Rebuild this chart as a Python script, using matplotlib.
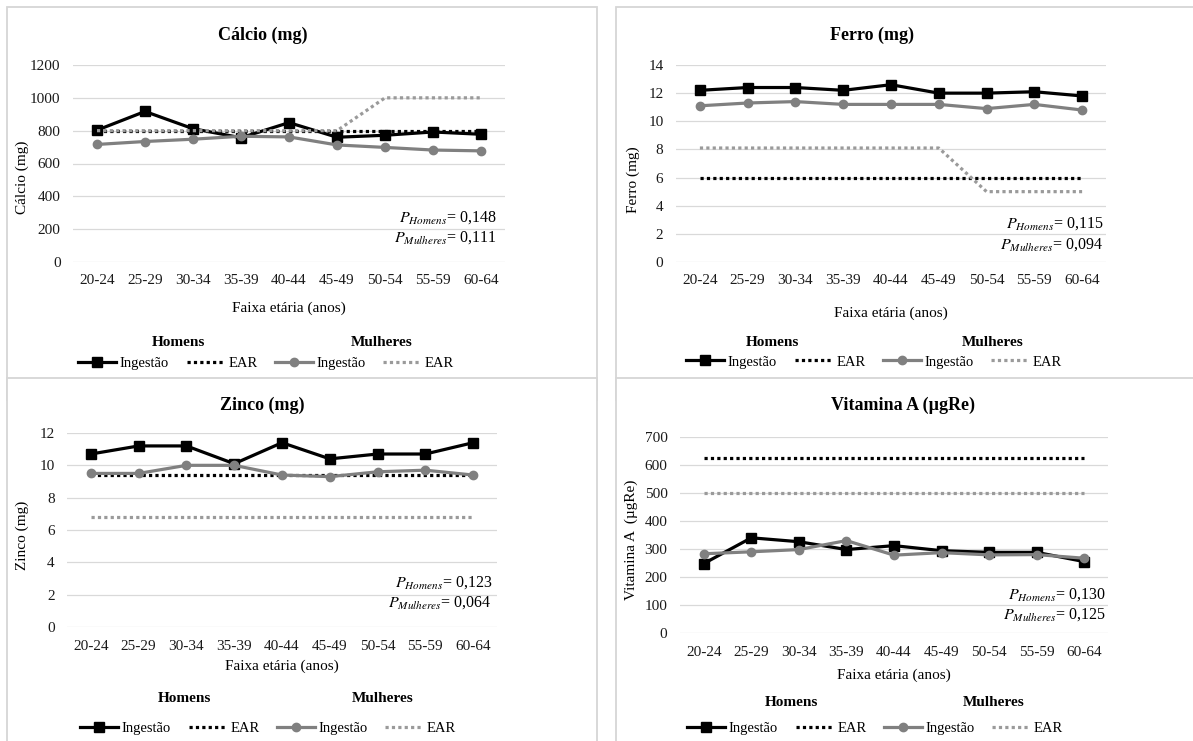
import matplotlib.pyplot as plt
import numpy as np
from matplotlib.lines import Line2D
from matplotlib.patches import Rectangle

plt.rcParams['font.family'] = ['Liberation Serif', 'DejaVu Serif']
plt.rcParams['mathtext.fontset'] = 'stix'

# %% data
faixas = ['20-24', '25-29', '30-34', '35-39', '40-44', '45-49', '50-54', '55-59', '60-64']

calcio_hom = [803, 917, 812, 757, 849, 760, 772, 792, 778]
calcio_hom_ear = [800, 800, 800, 800, 800, 800, 800, 800, 800]
calcio_mul = [716, 734, 748, 766, 762, 713, 698, 682, 677]
calcio_mul_ear = [800, 800, 800, 800, 800, 800, 1000, 1000, 1000]

ferro_hom = [12.2, 12.4, 12.4, 12.2, 12.6, 12.0, 12.0, 12.1, 11.8]
ferro_hom_ear = [6.0, 6.0, 6.0, 6.0, 6.0, 6.0, 6.0, 6.0, 6.0]
ferro_mul = [11.1, 11.3, 11.4, 11.2, 11.2, 11.2, 10.9, 11.2, 10.8]
ferro_mul_ear = [8.1, 8.1, 8.1, 8.1, 8.1, 8.1, 5.0, 5.0, 5.0]

zinco_hom = [10.7, 11.2, 11.2, 10.1, 11.4, 10.4, 10.7, 10.7, 11.4]
zinco_hom_ear = [9.4, 9.4, 9.4, 9.4, 9.4, 9.4, 9.4, 9.4, 9.4]
zinco_mul = [9.5, 9.5, 10.0, 10.0, 9.4, 9.3, 9.6, 9.7, 9.4]
zinco_mul_ear = [6.8, 6.8, 6.8, 6.8, 6.8, 6.8, 6.8, 6.8, 6.8]

vita_hom = [248, 340, 326, 298, 312, 294, 288, 288, 255]
vita_hom_ear = [625, 625, 625, 625, 625, 625, 625, 625, 625]
vita_mul = [283, 290, 298, 330, 278, 287, 279, 280, 267]
vita_mul_ear = [500, 500, 500, 500, 500, 500, 500, 500, 500]

titulos = ['Cálcio (mg)', 'Ferro (mg)', 'Zinco (mg)', 'Vitamina A (µgRe)']
ylabels = ['Cálcio (mg)', 'Ferro (mg)', 'Zinco (mg)', 'Vitamina A  (µgRe)']
yticks = [np.arange(0, 1201, 200), np.arange(0, 15, 2), np.arange(0, 13, 2), np.arange(0, 701, 100)]
p_homens = ['0,148', '0,115', '0,123', '0,130']
p_mulheres = ['0,111', '0,094', '0,064', '0,125']

series = [(calcio_hom, calcio_hom_ear, calcio_mul, calcio_mul_ear),
          (ferro_hom, ferro_hom_ear, ferro_mul, ferro_mul_ear),
          (zinco_hom, zinco_hom_ear, zinco_mul, zinco_mul_ear),
          (vita_hom, vita_hom_ear, vita_mul, vita_mul_ear)]

# %% layout in pixels
W, H = 1193, 741


def fx(x):
    return x / W


def fy(y):
    return 1 - y / H


boxes = [(7, 7, 597, 400), (616, 7, 1210, 400), (7, 378, 597, 760), (616, 378, 1210, 760)]
axpos = [(73, 65, 505, 262), (676, 65, 1106, 262), (67, 433, 497, 627), (680, 437, 1108, 633)]
title_xy = [(263, 35), (872, 35), (262, 405), (903, 405)]
ylab_xy = [(22, 177), (633, 180), (22, 535), (631, 540)]
xlab_xy = [(289, 308), (891, 313), (282, 666), (894, 675)]
p_xy = [(497, 218, 238), (1104, 224, 245), (492, 583, 603), (1106, 595, 615)]
head_xy = [(178, 382, 343), (772, 993, 343), (184, 383, 699), (791, 994, 703)]
leg_xy = [(266, 363), (874, 362), (268, 728), (875, 728)]

black = '#000000'
gray = '#808080'
gray_ear = '#9a9a9a'
dot = (0, (1, 1))

fig = plt.figure(figsize=(W / 100, H / 100), dpi=100)
x = np.arange(len(faixas))

for i in range(4):
    l, t, r, b = boxes[i]
    z = -4 if i < 2 else -2
    fig.add_artist(Rectangle((fx(l), fy(b)), fx(r) - fx(l), fy(t) - fy(b),
                             transform=fig.transFigure, facecolor='white',
                             edgecolor='#d6d6d6', lw=1.3, zorder=z))

    l, t, r, b = axpos[i]
    ax = fig.add_axes([fx(l), fy(b), fx(r) - fx(l), fy(t) - fy(b)], zorder=z + 1)
    ax.patch.set_visible(False)

    hom, hom_ear, mul, mul_ear = series[i]
    ax.plot(x, hom, color=black, lw=2.3, marker='s', ms=6.5)
    ax.plot(x, hom_ear, color=black, lw=2.3, ls=dot)
    ax.plot(x, mul, color=gray, lw=2.3, marker='o', ms=6)
    ax.plot(x, mul_ear, color=gray_ear, lw=2.3, ls=dot)

    ax.set_xlim(-0.5, len(faixas) - 0.5)
    ax.set_ylim(0, yticks[i][-1])
    ax.set_yticks(yticks[i])
    ax.set_xticks(x, faixas)
    ax.grid(axis='y', color='#d9d9d9', lw=0.9)
    ax.set_axisbelow(True)
    for s in ax.spines.values():
        s.set_visible(False)
    ax.tick_params(length=0, labelsize=11, pad=9, labelcolor='#1a1a1a')

    tx, ty = title_xy[i]
    ax.text(fx(tx), fy(ty), titulos[i], transform=fig.transFigure, ha='center',
            va='center', fontsize=13, fontweight='bold')

    ax.set_ylabel(ylabels[i], fontsize=11)
    ax.yaxis.set_label_coords(fx(ylab_xy[i][0]), fy(ylab_xy[i][1]), transform=fig.transFigure)
    ax.yaxis.label.set_va('center')
    ax.set_xlabel('Faixa etária (anos)', fontsize=11)
    ax.xaxis.set_label_coords(fx(xlab_xy[i][0]), fy(xlab_xy[i][1]), transform=fig.transFigure)
    ax.xaxis.label.set_va('center')

    px, py1, py2 = p_xy[i]
    ax.text(fx(px), fy(py1), r'$P_{Homens}$= ' + p_homens[i], transform=fig.transFigure,
            ha='right', va='center', fontsize=11.5)
    ax.text(fx(px), fy(py2), r'$P_{Mulheres}$= ' + p_mulheres[i], transform=fig.transFigure,
            ha='right', va='center', fontsize=11.5)

    hx1, hx2, hy = head_xy[i]
    ax.text(fx(hx1), fy(hy), 'Homens', transform=fig.transFigure, ha='center',
            va='center', fontsize=11, fontweight='bold')
    ax.text(fx(hx2), fy(hy), 'Mulheres', transform=fig.transFigure, ha='center',
            va='center', fontsize=11, fontweight='bold')

    handles = [Line2D([], [], color=black, lw=2.3, marker='s', ms=6.5),
               Line2D([], [], color=black, lw=2.3, ls=dot),
               Line2D([], [], color=gray, lw=2.3, marker='o', ms=6),
               Line2D([], [], color=gray_ear, lw=2.3, ls=dot)]
    lx, ly = leg_xy[i]
    ax.legend(handles, ['Ingestão', 'EAR', 'Ingestão', 'EAR'], ncol=4, loc='center',
              bbox_to_anchor=(fx(lx), fy(ly)), bbox_transform=fig.transFigure,
              frameon=False, fontsize=10.5, handlelength=2.6, handletextpad=0.25,
              columnspacing=1.2, borderpad=0, borderaxespad=0)

fig.savefig('out.png', dpi=100)
